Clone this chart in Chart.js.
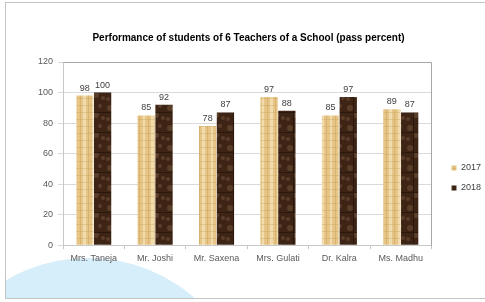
<!DOCTYPE html>
<html>
<head>
<meta charset="utf-8">
<script src="https://cdn.jsdelivr.net/npm/chart.js@4.4.0/dist/chart.umd.min.js"></script>
<style>
  body { margin: 0; background: #fff; width: 485px; height: 302px; overflow: hidden; position: relative; }
  #frame { position: absolute; left: 5px; top: 2px; width: 490px; height: 295px; border: 1px solid #c4c4c4; border-right: none; overflow: hidden; }
  #blob { position: absolute; left: -80px; top: 255px; width: 324px; height: 324px; border-radius: 50%; background: #d6eef9; }
  #wrap { position: absolute; left: 0; top: 0; width: 485px; height: 295px; }
</style>
</head>
<body>
<div id="frame">
  <div id="blob"></div>
  <div id="wrap"><canvas id="chart" width="485" height="295"></canvas></div>
</div>
<script>
// pass percent per teacher
const teachers = ['Mrs. Taneja', 'Mr. Joshi', 'Mr. Saxena', 'Mrs. Gulati', 'Dr. Kalra', 'Ms. Madhu'];
const pass2017 = [98, 85, 78, 97, 85, 89];
const pass2018 = [100, 92, 87, 88, 97, 87];
const yMin = 0, yMax = 120, yStep = 20;

const FONT = 'Liberation Sans';

// textured fills, like the excel "wood" / "marble" fills
function lightWood() {
  var c = document.createElement('canvas');
  c.width = 17; c.height = 14;
  var g = c.getContext('2d');
  g.fillStyle = '#e6c586';
  g.fillRect(0, 0, 17, 14);
  g.fillStyle = '#f1dcae';
  g.fillRect(1, 0, 2, 14);
  g.fillRect(9, 0, 3, 14);
  g.fillStyle = '#d8b473';
  g.fillRect(6, 0, 1, 14);
  g.fillRect(14, 0, 1, 14);
  g.fillStyle = 'rgba(200,160,90,0.35)';
  g.fillRect(0, 4, 17, 1);
  g.fillRect(0, 11, 17, 1);
  return g.createPattern(c, 'repeat');
}
function darkMarble() {
  var c = document.createElement('canvas');
  c.width = 20; c.height = 20;
  var g = c.getContext('2d');
  g.fillStyle = '#3d2415';
  g.fillRect(0, 0, 20, 20);
  g.fillStyle = '#5a3e2a';
  [[4, 5, 3], [14, 3, 2], [10, 12, 3], [2, 16, 2], [17, 15, 2]].forEach(function (p) {
    g.beginPath(); g.arc(p[0], p[1], p[2], 0, Math.PI * 2); g.fill();
  });
  g.fillStyle = '#2b180d';
  g.fillRect(7, 0, 1, 20);
  g.fillRect(0, 9, 20, 1);
  return g.createPattern(c, 'repeat');
}

const valueLabels = {
  id: 'valueLabels',
  afterDatasetsDraw(chart) {
    var ctx = chart.ctx;
    ctx.save();
    ctx.font = '9px "' + FONT + '"';
    ctx.fillStyle = '#404040';
    ctx.textAlign = 'center';
    ctx.textBaseline = 'bottom';
    chart.data.datasets.forEach(function (ds, i) {
      chart.getDatasetMeta(i).data.forEach(function (bar, j) {
        ctx.fillText(ds.data[j], bar.x, bar.y - 3);
      });
    });
    ctx.restore();
  }
};

const plotBorder = {
  id: 'plotBorder',
  afterDraw(chart) {
    var a = chart.chartArea, ctx = chart.ctx;
    ctx.save();
    ctx.strokeStyle = '#a6a6a6';
    ctx.lineWidth = 1;
    ctx.beginPath();
    ctx.moveTo(Math.round(a.left) + 0.5, Math.round(a.top) + 0.5);
    ctx.lineTo(Math.round(a.right) + 0.5, Math.round(a.top) + 0.5);
    ctx.lineTo(Math.round(a.right) + 0.5, Math.round(a.bottom) + 0.5);
    ctx.stroke();
    ctx.restore();
  }
};

var ctx = document.getElementById('chart').getContext('2d');
new Chart(ctx, {
  type: 'bar',
  data: {
    labels: teachers,
    datasets: [
      { label: '2017', data: pass2017, backgroundColor: lightWood(), borderWidth: 0 },
      { label: '2018', data: pass2018, backgroundColor: darkMarble(), borderWidth: 0 }
    ]
  },
  plugins: [valueLabels, plotBorder],
  options: {
    responsive: false,
    animation: false,
    layout: { padding: { left: 0, right: 0, top: 0, bottom: 30 } },
    datasets: { bar: { barPercentage: 0.97, categoryPercentage: 0.58 } },
    plugins: {
      title: {
        display: true,
        text: 'Performance of students of 6 Teachers of a School (pass percent)',
        color: '#000',
        font: { family: FONT, size: 10, weight: 'bold' },
        padding: { top: 29, bottom: 18 }
      },
      legend: {
        position: 'right',
        title: { display: true, text: ' ', font: { family: FONT, size: 9 }, padding: { top: 0, bottom: 74 } },
        labels: {
          boxWidth: 5, boxHeight: 5, padding: 11,
          color: '#404040',
          font: { family: FONT, size: 9 }
        }
      },
      tooltip: { enabled: false }
    },
    scales: {
      x: {
        grid: { offset: true, drawOnChartArea: false, tickLength: 4, color: '#c8c8c8' },
        border: { color: '#c8c8c8' },
        ticks: { color: '#595959', font: { family: FONT, size: 9 }, padding: 4 }
      },
      y: {
        min: yMin, max: yMax,
        afterFit: function (s) { s.width = 57; },
        ticks: { stepSize: yStep, color: '#595959', font: { family: FONT, size: 9 }, padding: 5 },
        grid: { color: '#dadada', tickLength: 5 },
        border: { color: '#c8c8c8' }
      },
      // empty axis, only keeps the legend a bit away from the plot
      gap: {
        type: 'linear',
        position: 'right',
        display: true,
        grid: { display: false },
        border: { display: false },
        ticks: { display: false },
        afterFit: function (s) { s.width = 9; }
      }
    }
  }
});
</script>
</body>
</html>
